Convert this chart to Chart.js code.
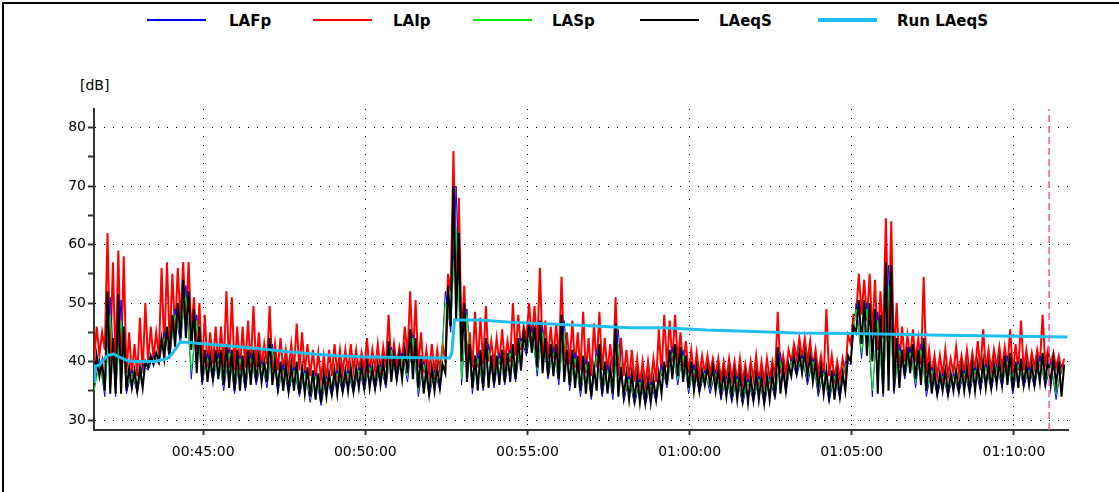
<!DOCTYPE html>
<html>
<head>
<meta charset="utf-8">
<script src="https://cdn.jsdelivr.net/npm/chart.js@4/dist/chart.umd.min.js"></script>
<style>
  body { margin: 0; background: #fff; font-family: "DejaVu Sans", sans-serif; }
  #wrap { position: relative; width: 1119px; height: 492px; overflow: hidden; }
  #frame { position: absolute; left: 2px; top: 2px; width: 1120px; height: 494px;
           border-left: 2px solid #000; border-top: 2px solid #000; }
  .ln { position: absolute; height: 2px; top: 19px; width: 59px; }
  .lt { position: absolute; top: 12px; font-weight: bold; font-size: 15px; color: #000; }
  #unit { position: absolute; left: 80px; top: 77px; font-size: 14px; color: #000; }
  canvas { position: absolute; left: 0; top: 0; }
</style>
</head>
<body>
<div id="wrap">
  <div id="frame"></div>
  <div class="ln" style="left:147px;background:#0000ff"></div><div class="lt" style="left:229px">LAFp</div>
  <div class="ln" style="left:313px;background:#ff0000"></div><div class="lt" style="left:393px">LAIp</div>
  <div class="ln" style="left:473px;background:#00ee00"></div><div class="lt" style="left:552px">LASp</div>
  <div class="ln" style="left:640px;background:#000000"></div><div class="lt" style="left:719px">LAeqS</div>
  <div class="ln" style="left:818px;background:#1ebef0;height:4px;top:18px"></div><div class="lt" style="left:897px">Run LAeqS</div>
  <div id="unit">[dB]</div>
  <canvas id="noiseChart" width="1119" height="492"></canvas>
</div>
<script>
// time of first sample: 00:41:38 (seconds since 00:00:00)
const startSec = 2498;
const cursorTime = "01:11:05";

// LAIp / LAeqS: low and high value in each 10 s slice
const laipLo = [
  40,41,42,40,39,38.5,38,37.5,37.5,38,
  40,40.5,41,42,43,45,47,46,45,42,
  39,39,39.5,39.5,39,39,38.5,38.5,39,39,
  39,39,39.5,38.5,38.5,38.5,38.5,38.5,38.5,38,
  37.5,37,37,37,37.5,38,38,38,38.5,38.5,
  38.5,38,38.5,38.5,39,39,39.5,40,41,40.5,
  39,38,38,38,38.5,40,52,52,44,40,
  39,39,39.5,40,39.5,39.5,40,40,41,42,
  44,43.5,42,41,40.5,40.5,40,40,39.5,39,
  38.5,38,37.5,39,38.5,38,38,37.5,37.5,37,
  36.5,36,36,36,36.5,37.5,39,40,40,39,
  38,37.5,37.5,38,38,37.5,37,37,37,36.5,
  36.5,36.5,37,36.5,36.5,37,37.5,38,38,40,
  40.5,40.5,40,39,38,37.5,37.5,37,37,38,
  43,48,48,47,45,42,44,44,40,39,
  40,40.5,40,39.5,38,37.5,37.5,37.5,37.5,38,
  38,38,38,38.5,38.5,38.5,38.5,39,39,39,
  38,38.5,38.5,38.5,39,39.5,39.5,39.5,39,38.5
];
const laipHi = [
  46,45,62,57,59,58,45,43,47.5,50,
  46,45,56,57,55,56,57,57,51,50,
  48,45,46,46,52,51,46,46,47,49.5,
  45,43,49.5,43,44,42,43,46.5,45,43,
  42,41.5,41,42,43,42,42,43,42,41.5,
  44,42,43,42.5,48,43,42.5,46,52,50.5,
  45,42,43,42,43,55,76,68,53,45,
  48.5,47.5,49.5,43.5,44,45.5,43.5,50,48,46,
  50,49.5,56,47,46,46.5,54.5,45,47,45,
  48.5,44,46.5,48.5,44,43,51,44,42,42,
  40.5,40,40,40.5,45.5,48,47,48,45,43.5,
  42,41.5,41,41,40.5,40.5,40,40.5,40,40.5,
  39.5,40,41,40,40.5,40,48.5,41,42,43,
  44,44,43.5,42,41,49,41,40,40.5,44.5,
  48,55,54,55,54,52,64.5,64,50,46,
  44.5,45.5,44,54.5,42,41,41,42,40.5,42.5,
  41,42,41.5,43.5,45.5,42,42,42.5,42.5,45.5,
  43,47,42,41.5,42,48,42,41.5,41,40.5
];
const laeqLo = [
  36,37.5,35,34.5,34.5,34.5,35,35.5,35,35.5,
  39,39.5,40,40.5,41,42.5,44,44,42,38,
  36.5,36.5,37,37,36,35.5,35,35,35.5,36,
  36.5,36.5,36.5,36,35.5,35,35,35,34.5,34.5,
  34,33.5,33,34,34.5,34.5,35,35,35,35.5,
  35.5,35.5,35.5,36,36,36.5,37,37,38,37,
  35.5,34.5,34.5,35,35.5,38,46,47,40,36.5,
  35.5,35,35.5,35.5,36,36,36.5,36.5,37,38.5,
  42,41.5,39,38,37.5,37.5,37,36.5,36,35.5,
  35,34.5,34,35,34.5,34.5,34.5,34,34,33.5,
  33.5,33,33,33,33.5,34.5,36,37,37.5,36.5,
  35.5,35,35,36,36,35,34.5,34,34,33.5,
  33.5,33,33.5,33.5,33,33.5,34,34.5,35,37.5,
  38,38,37.5,36.5,35.5,34.5,34,33.5,34,35,
  40,45,43,41,40,34.5,34.5,35,35,35.5,
  37.5,38,37,36,35,34.5,34.5,35,34.5,35,
  35,35,35,35,35.5,35.5,35.5,36,36,36,
  35,35.5,36,36,36,36.5,36.5,36,36,34
];
const laeqHi = [
  41,40,52,44,51.5,46,39,38.5,39,40,
  41,41.5,44,46,48,50,54,52,49,46,
  42,41,42,42,43,42,42,41,42,42,
  41,40,44,40,40,39.5,39.5,40,39,39,
  38.5,38,38,38,38.5,39,38.5,39,39,39.5,
  40,39,39.5,40,43.5,41,41,42,45.5,44,
  41,39,39,39,39.5,53,70,62,50,43,
  41,42,44,41,41,42,41.5,43,44,45,
  46.5,46,47,44,43,43,48,42,42,41,
  41,40,39,43,40,39,46.5,39,38,38,
  37.5,37,37,37,38,40,42,43,42.5,41,
  40,39,38.5,39,39,38.5,38,38,38,38,
  37.5,37.5,38,37.5,37.5,38,42.5,39,39.5,41,
  41.5,41.5,41,40,39,38.5,38.5,38,38,41,
  46,50.5,50.5,50,49,48,57,56.5,44,42,
  42.5,43,42,44,40,38.5,38,38.5,38,38.5,
  39,39,39.5,39.5,40,39.5,39.5,40,41,41.5,
  40,40.5,39.5,39.5,40,41.5,40.5,40.5,40,39.5
];

// LAFp / LASp: low and high value in each 20 s slice
const lafpLo = [
  35,34,34,34.5,34.5,38.5,39.5,40.5,43,37,
  36,36.5,35,34.5,35,36,35.5,34.5,34.5,34,
  33,32.5,34,34.5,34.5,35,35,35.5,36.5,36.5,
  34,34,35,45,36,34.5,35,35.5,36,36.5,
  41,37.5,37,36,35,34,33.5,34,33.5,33,
  32.5,32.5,33,35.5,36,34.5,34.5,34.5,33.5,33,
  32.5,33,32.5,33.5,34.5,37.5,36,34,33,33.5,
  39.5,40.5,34,34,34.5,37,35.5,34,34,34,
  34.5,34.5,35,35,35.5,34.5,35.5,35.5,35.5,33.5
];
const lafpHi = [
  40.5,51,50.5,38.5,39.5,41,45,49,53,48,
  41.5,41.5,42,41,41.5,40,43,39.5,39,38.5,
  38,37.5,38.5,38.5,39,39.5,39.5,42.5,41.5,44.5,
  40,38.5,52,70,49,41.5,43,41.5,42,44,
  46,46,42.5,47,41.5,40.5,42,39.5,45.5,37.5,
  37,36.5,39.5,42.5,42,39.5,38.5,38.5,37.5,37.5,
  37,37.5,37.5,41.5,40.5,41,40.5,38.5,38,40,
  50,50,48.5,56.5,43,42.5,43,39,38,38,
  38.5,39,39.5,39.5,41,40,39,41,40,39.5
];
const laspLo = [
  35,35,35,35.5,35.5,39.5,40.5,41.5,44.5,38.5,
  37,37.5,36,35.5,36,37,36.5,35.5,35.5,35,
  34,33.5,35,35.5,35.5,36,36,36.5,37.5,37.5,
  35,35,36,46.5,37,35.5,36,36.5,37,37.5,
  42,38.5,38,37,36,35,34.5,35,34.5,34,
  33.5,33.5,34,36.5,37,35.5,35.5,35.5,34.5,34,
  33.5,34,33.5,34.5,35.5,38.5,37,35,34,34.5,
  40.5,41.5,35,35,35.5,38,36.5,35,35,35,
  35.5,35.5,36,36,36.5,35.5,36.5,36.5,36.5,34.5
];
const laspHi = [
  39.5,48,47,38,38.5,40.5,44,48,51,47,
  40.5,40.5,41.5,40.5,40.5,39.5,42,38.5,38.5,38,
  37.5,37,38,38,38.5,39,39,42,40.5,44,
  39.5,38,50,63,48,40.5,42,40.5,41.5,43.5,
  45,45,41.5,45,40.5,39.5,41,38.5,43,37,
  36.5,36,38.5,41.5,41,38.5,38,38,37,37,
  36.5,37,37,40,40,40.5,40,38,37.5,39.5,
  49,49,47,53,42,41.5,42,38.5,37.5,37.5,
  38,38.5,39,39,40,39.5,38.5,40,39.5,39
];

// Run LAeqS (running average)
const runTimes = ["00:41:38","00:41:39","00:41:48","00:42:02","00:42:14","00:42:26","00:42:39","00:42:51",
  "00:43:31","00:43:53","00:44:02","00:44:11","00:44:17","00:44:30","00:44:54","00:45:44","00:46:45",
  "00:47:47","00:48:24","00:49:07","00:49:50","00:51:04","00:52:36","00:52:40","00:52:45","00:53:32",
  "00:54:33","00:55:54","00:57:02","00:58:09","00:59:11","01:00:31","01:01:45","01:03:17","01:05:02",
  "01:07:52","01:11:39"];
const runValues = [36.6,39.2,39.4,41.0,41.3,40.7,40.2,40.0,40.0,40.5,41.3,42.4,43.3,43.3,43.1,42.7,42.2,
  41.6,41.3,41.0,40.8,40.7,40.6,41.5,47.1,47.1,46.7,46.4,46.1,45.8,45.8,45.4,45.2,44.9,44.8,44.5,44.2];

const xTickValues = [2700, 3000, 3300, 3600, 3900, 4200];
const yTickValues = [30, 35, 40, 45, 50, 55, 60, 65, 70, 75, 80];

function toSec(s) {
  const p = s.split(":").map(Number);
  return p[0] * 3600 + p[1] * 60 + p[2];
}
function fmt(sec) {
  const h = Math.floor(sec / 3600), m = Math.floor((sec % 3600) / 60), s = sec % 60;
  return [h, m, s].map(v => String(v).padStart(2, "0")).join(":");
}
// one slice -> low point at its start, high point in its middle
function slices(lo, hi, step) {
  const pts = [];
  for (let i = 0; i < lo.length; i++) {
    pts.push({ x: startSec + i * step, y: lo[i] });
    pts.push({ x: startSec + i * step + step / 2, y: hi[i] });
  }
  return pts;
}

const yMin = 28.29, yMax = 83.2;
const xMin = startSec, xMax = 4300;

const base = { pointRadius: 0, tension: 0, fill: false };

new Chart(document.getElementById("noiseChart"), {
  type: "line",
  data: {
    datasets: [
      { ...base, label: "LAIp", data: slices(laipLo, laipHi, 10), borderColor: "#ff0000", borderWidth: 2, order: 4 },
      { ...base, label: "LAFp", data: slices(lafpLo, lafpHi, 20), borderColor: "#0000ff", borderWidth: 1, order: 3 },
      { ...base, label: "LASp", data: slices(laspLo, laspHi, 20), borderColor: "#00ee00", borderWidth: 1, order: 2 },
      { ...base, label: "LAeqS", data: slices(laeqLo, laeqHi, 10), borderColor: "#000000", borderWidth: 2, order: 1 },
      { ...base, label: "Run LAeqS", data: runTimes.map((t, i) => ({ x: toSec(t), y: runValues[i] })),
        borderColor: "#1ebef0", borderWidth: 3, order: 0 },
      { ...base, label: "cursor", data: [{ x: toSec(cursorTime), y: yMin }, { x: toSec(cursorTime), y: yMax }],
        borderColor: "#ff50a8", borderWidth: 1.5, borderDash: [7, 4], order: -1 }
    ]
  },
  options: {
    responsive: false,
    animation: false,
    devicePixelRatio: 1,
    layout: { padding: { top: 109, right: 51, left: 0, bottom: 0 } },
    plugins: { legend: { display: false }, tooltip: { enabled: false } },
    scales: {
      x: {
        type: "linear",
        min: xMin,
        max: xMax,
        afterBuildTicks: axis => { axis.ticks = xTickValues.map(v => ({ value: v })); },
        afterFit: scale => { scale.height = 62; },
        ticks: {
          callback: v => fmt(v),
          color: "#000",
          font: { family: "DejaVu Sans", size: 14 },
          padding: 9,
          maxRotation: 0,
          autoSkip: false
        },
        grid: { color: "#000", lineWidth: 1, tickLength: 5, tickColor: "#333", tickWidth: 2 },
        border: { color: "#333", width: 2, dash: [1, 8] }
      },
      y: {
        type: "linear",
        min: yMin,
        max: yMax,
        afterBuildTicks: axis => { axis.ticks = yTickValues.map(v => ({ value: v })); },
        afterFit: scale => { scale.width = 94; },
        ticks: {
          callback: v => (v % 10 === 0 ? v : ""),
          color: "#000",
          font: { family: "DejaVu Sans", size: 14 },
          padding: 2,
          autoSkip: false
        },
        grid: {
          color: c => (c.tick && c.tick.value % 10 === 0 ? "#000" : "rgba(0,0,0,0)"),
          lineWidth: 1, tickLength: 6, tickColor: "#333", tickWidth: 2
        },
        border: { color: "#333", width: 2, dash: [1, 8] }
      }
    }
  }
});
</script>
</body>
</html>
